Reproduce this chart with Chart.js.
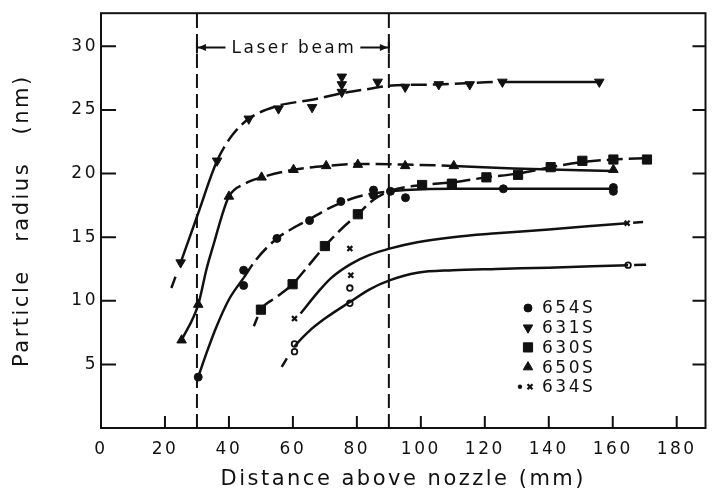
<!DOCTYPE html>
<html>
<head>
<meta charset="utf-8">
<script src="https://cdn.jsdelivr.net/npm/chart.js@4.4.1/dist/chart.umd.min.js"></script>
<style>
  html, body { margin: 0; padding: 0; background: #fff; }
  #wrap { width: 713px; height: 499px; }
</style>
</head>
<body>
<div id="wrap"><canvas id="myChart" width="713" height="499"></canvas></div>
<script>
// measured points (x = distance above nozzle in mm, y = particle radius in nm)
const x654 = [30.4, 44.6, 44.6, 55.0, 65.2, 75.0, 85.2, 85.2, 90.5, 95.2, 125.8, 160.2, 160.2];
const y654 = [4.0, 12.4, 11.2, 14.9, 16.3, 17.8, 18.7, 18.3, 18.6, 18.1, 18.8, 18.9, 18.6];

const x631 = [24.9, 36.3, 46.2, 55.5, 66.0, 75.3, 75.3, 75.3, 86.5, 95.1, 105.6, 115.3, 125.5, 155.8];
const y631 = [13.0, 21.0, 24.3, 25.1, 25.2, 27.6, 27.0, 26.4, 27.2, 26.8, 27.0, 27.0, 27.2, 27.2];

const x630 = [50.0, 59.9, 70.0, 80.3, 100.4, 109.7, 120.5, 130.4, 140.6, 150.5, 160.2, 170.7];
const y630 = [9.3, 11.3, 14.3, 16.8, 19.1, 19.2, 19.7, 19.9, 20.5, 21.0, 21.1, 21.1];

const x650 = [25.2, 30.4, 40.0, 50.2, 60.2, 70.4, 80.3, 95.1, 110.3, 160.2];
const y650 = [6.9, 9.7, 18.2, 19.7, 20.3, 20.6, 20.7, 20.6, 20.6, 20.3];

const x634x = [60.5, 77.8, 78.1, 164.5];
const y634x = [8.6, 14.1, 12.0, 16.1];
const x634o = [60.5, 60.5, 77.8, 77.8, 164.8];
const y634o = [6.6, 6.0, 9.8, 11.0, 12.8];

// hand drawn fit curves
const c654x = [30.4, 33, 36, 40, 44.6, 48.4, 55, 60, 65.2, 70, 75, 80, 85.2, 90.5, 95.2, 110, 125.8, 160.2];
const c654y = [4.0, 5.9, 7.9, 10.1, 11.8, 13.2, 14.9, 15.7, 16.4, 17.1, 17.7, 18.15, 18.45, 18.6, 18.7, 18.8, 18.8, 18.8];

const c631x = [22.0, 24.9, 30, 36.3, 41, 46.2, 55, 66, 75.3, 85, 90, 105.6, 125.5, 155.8];
const c631y = [11.0, 13.0, 16.6, 21.0, 23.0, 24.3, 25.3, 25.8, 26.3, 26.7, 26.9, 27.0, 27.2, 27.2];

const c630x = [47.8, 50, 55, 59.9, 65, 70, 75, 80.3, 85, 90, 100.4, 110, 120.5, 130.4, 140.6, 150.5, 160.2, 170.7];
const c630y = [8.0, 9.3, 10.3, 11.3, 12.8, 14.3, 15.6, 16.8, 17.9, 18.6, 19.1, 19.3, 19.7, 20.0, 20.5, 20.9, 21.1, 21.2];

const c650x = [25.2, 30.4, 33, 35.4, 37.7, 40, 45, 50.2, 60.2, 70.4, 80.3, 95.1, 110.3, 129, 160.2];
const c650y = [6.9, 9.7, 12.5, 14.6, 16.6, 18.2, 19.2, 19.7, 20.3, 20.6, 20.75, 20.7, 20.6, 20.4, 20.2];

const c634ax = [62.4, 67.9, 72, 78.2, 84, 90.2, 98.9, 110, 123.6, 140, 164.5, 170];
const c634ay = [9.0, 10.7, 11.8, 12.9, 13.6, 14.1, 14.6, 15.0, 15.3, 15.6, 16.1, 16.2];
const c634bx = [56.5, 60.5, 65, 70, 77.8, 84, 90.2, 98.9, 110, 123.6, 140, 164.8, 172];
const c634by = [4.8, 6.4, 7.6, 8.6, 9.9, 10.9, 11.6, 12.2, 12.4, 12.5, 12.6, 12.8, 12.85];

const laserStart = 30, laserEnd = 90;
const xTicks = [0, 20, 40, 60, 80, 100, 120, 140, 160, 180];
const yTicks = [5, 10, 15, 20, 25, 30];
const legendNames = ["654S", "631S", "630S", "650S", "634S"];

const ink = "#111";
const fontFam = "'DejaVu Sans', sans-serif";

function pts(xs, ys) {
  return xs.map((x, i) => ({ x: x, y: ys[i] }));
}

// dash a curve between two x values
function dashBetween(a, b, dash) {
  return ctx => (ctx.p0.parsed.x >= a - 0.01 && ctx.p1.parsed.x <= b + 0.01) ? dash : undefined;
}

function curve(xs, ys, segDash) {
  return {
    data: pts(xs, ys),
    showLine: true,
    borderColor: ink,
    borderWidth: 2.5,
    pointRadius: 0,
    tension: 0.4,
    cubicInterpolationMode: "monotone",
    segment: { borderDash: segDash }
  };
}

function markers(label, xs, ys, style, r, extra) {
  return Object.assign({
    label: label,
    data: pts(xs, ys),
    showLine: false,
    pointStyle: style,
    pointRadius: r,
    backgroundColor: ink,
    borderColor: ink,
    borderWidth: 1
  }, extra || {});
}

const longDash = [16, 6];

const datasets = [
  // laser beam limits
  { data: [{ x: laserStart, y: 0 }, { x: laserStart, y: 32.6 }], showLine: true, borderColor: ink, borderWidth: 2, borderDash: [14, 6], pointRadius: 0 },
  { data: [{ x: laserEnd, y: 0 }, { x: laserEnd, y: 32.6 }], showLine: true, borderColor: ink, borderWidth: 2, borderDash: [14, 6], pointRadius: 0 },

  curve(c654x, c654y, dashBetween(44.6, 92, longDash)),
  curve(c631x, c631y, ctx => ctx.p1.parsed.x <= 25 ? [12, 40] : (ctx.p0.parsed.x >= 36 && ctx.p1.parsed.x <= 126 ? longDash : undefined)),
  curve(c630x, c630y, ctx => ctx.p1.parsed.x <= 50.5 ? [10, 40] : longDash),
  curve(c650x, c650y, dashBetween(40, 110.3, longDash)),
  curve(c634ax, c634ay, ctx => ctx.p0.parsed.x >= 164 ? [0, 6, 10, 60] : undefined),
  curve(c634bx, c634by, ctx => ctx.p1.parsed.x <= 61 ? [10, 40] : (ctx.p0.parsed.x >= 164 ? [0, 6, 12, 60] : undefined)),

  markers("654S", x654, y654, "circle", 4),
  markers("631S", x631, y631, "triangle", 5.5, { rotation: 180 }),
  markers("630S", x630, y630, "rect", 6.5),
  markers("650S", x650, y650, "triangle", 5.5),
  markers("634S", x634x, y634x, "crossRot", 3.5, { borderWidth: 2.2 }),
  markers("634S dot", x634o, y634o, "circle", 2.8, { backgroundColor: "#fff", borderWidth: 1.8 })
];

// the lettering in the original is widely spaced
const spacingPlugin = {
  id: "spacing",
  beforeDraw(chart) {
    chart.ctx.letterSpacing = "2.5px";
  }
};

// frame with inward ticks, like the original
const framePlugin = {
  id: "frame",
  afterDraw(chart) {
    const c = chart.ctx, a = chart.chartArea;
    const xs = chart.scales.x, ys = chart.scales.y;
    c.save();
    c.strokeStyle = ink;
    c.lineWidth = 2;
    c.strokeRect(a.left, a.top, a.right - a.left, a.bottom - a.top);
    c.beginPath();
    yTicks.forEach(v => {
      const py = ys.getPixelForValue(v);
      c.moveTo(a.left, py); c.lineTo(a.left + 15, py);
      c.moveTo(a.right - 13, py); c.lineTo(a.right, py);
    });
    xTicks.forEach(v => {
      if (v === 0) return;
      const px = xs.getPixelForValue(v);
      c.moveTo(px, a.bottom); c.lineTo(px, a.bottom - 12);
    });
    c.stroke();
    c.restore();
  }
};

// "Laser beam" arrow label
const laserPlugin = {
  id: "laser",
  afterDatasetsDraw(chart) {
    const c = chart.ctx;
    const xs = chart.scales.x, ys = chart.scales.y;
    const y = ys.getPixelForValue(29.9);
    const x0 = xs.getPixelForValue(laserStart), x1 = xs.getPixelForValue(laserEnd);
    const xm = xs.getPixelForValue((laserStart + laserEnd) / 2);
    c.save();
    c.strokeStyle = ink; c.fillStyle = ink; c.lineWidth = 2;
    c.font = "17px " + fontFam;
    c.textAlign = "center"; c.textBaseline = "middle";
    const tw = c.measureText("Laser beam").width;
    c.fillText("Laser beam", xm + 1, y + 1);
    c.beginPath();
    c.moveTo(x0, y); c.lineTo(xm - tw / 2 - 5, y);
    c.moveTo(xm + tw / 2 + 5, y); c.lineTo(x1, y);
    c.moveTo(x0, y - 6); c.lineTo(x0, y + 6);
    c.moveTo(x1, y - 6); c.lineTo(x1, y + 6);
    c.stroke();
    c.beginPath();
    c.moveTo(x0 + 1, y); c.lineTo(x0 + 9, y - 3.5); c.lineTo(x0 + 9, y + 3.5); c.closePath();
    c.moveTo(x1 - 1, y); c.lineTo(x1 - 9, y - 3.5); c.lineTo(x1 - 9, y + 3.5); c.closePath();
    c.fill();
    c.restore();
  }
};

// legend drawn inside the plot, lower right
const legendPlugin = {
  id: "innerLegend",
  afterDraw(chart) {
    const c = chart.ctx;
    const lx = 528, ly = 308, step = 19.7;
    c.save();
    c.font = "17px " + fontFam;
    c.fillStyle = ink;
    c.textAlign = "left"; c.textBaseline = "middle";
    legendNames.forEach((name, i) => {
      const y = ly + i * step;
      const ds = chart.data.datasets.find(d => d.label === name);
      const opts = {
        pointStyle: ds.pointStyle,
        radius: ds.pointRadius,
        rotation: ds.rotation || 0,
        borderWidth: ds.borderWidth
      };
      c.fillStyle = ds.backgroundColor; c.strokeStyle = ds.borderColor; c.lineWidth = ds.borderWidth;
      if (name === "634S") {
        c.beginPath(); c.arc(lx - 8, y, 2.2, 0, Math.PI * 2); c.fillStyle = ink; c.fill();
        Chart.helpers.drawPoint(c, opts, lx + 2, y);
      } else {
        Chart.helpers.drawPoint(c, opts, lx, y);
      }
      c.fillStyle = ink;
      c.fillText(name, lx + 14, y + 1);
    });
    c.restore();
  }
};

const ctx = document.getElementById("myChart").getContext("2d");

new Chart(ctx, {
  type: "scatter",
  data: { datasets: datasets },
  options: {
    responsive: false,
    animation: false,
    devicePixelRatio: 1,
    layout: { padding: { top: 8, right: 2, left: 0, bottom: 0 } },
    plugins: { legend: { display: false }, tooltip: { enabled: false } },
    scales: {
      x: {
        type: "linear",
        min: 0,
        max: 189,
        grid: { display: false, drawTicks: false },
        border: { display: false },
        ticks: {
          stepSize: 20,
          includeBounds: false,
          autoSkip: false,
          maxRotation: 0,
          padding: 11,
          color: ink,
          font: { family: fontFam, size: 17 }
        },
        title: {
          display: true,
          text: "Distance above nozzle (mm)",
          color: ink,
          font: { family: fontFam, size: 21 },
          padding: { top: 0, bottom: 7 }
        },
        afterFit: s => { s.height = 71; }
      },
      y: {
        type: "linear",
        min: 0,
        max: 32.6,
        grid: { display: false, drawTicks: false },
        border: { display: false },
        ticks: {
          stepSize: 5,
          includeBounds: false,
          padding: 3,
          color: ink,
          font: { family: fontFam, size: 17 },
          callback: v => (v === 0 ? "" : v)
        },
        title: {
          display: true,
          text: "Particle   radius   (nm)",
          color: ink,
          font: { family: fontFam, size: 21 },
          padding: { top: 10, bottom: 0 }
        },
        afterFit: s => { s.width = 101; }
      }
    }
  },
  plugins: [spacingPlugin, framePlugin, laserPlugin, legendPlugin]
});
</script>
</body>
</html>
